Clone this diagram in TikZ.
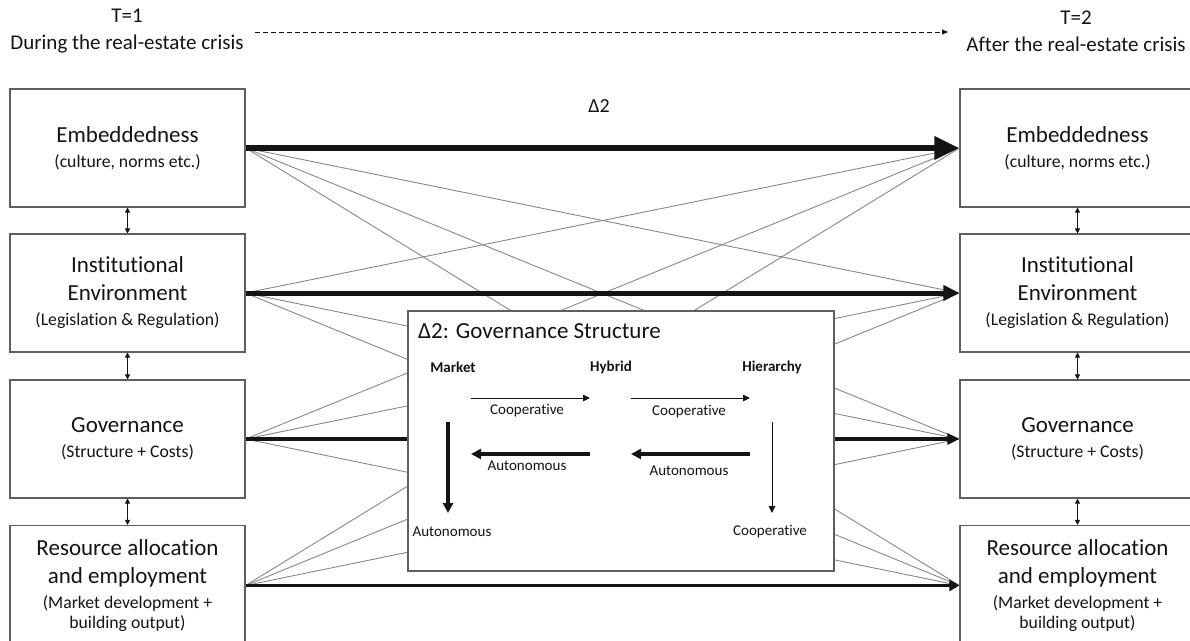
\documentclass[tikz,border=0pt]{standalone}
\usepackage{fontspec}
\setmainfont[Ligatures=NoCommon]{Carlito}
\usetikzlibrary{arrows.meta}
\definecolor{boxgray}{RGB}{95,95,95}
\definecolor{linegray}{RGB}{135,135,135}
\definecolor{ink}{RGB}{20,20,20}
\newcommand{\ttlfnt}{\fontsize{23}{28}\selectfont}
\newcommand{\subfnt}{\fontsize{17.7}{20}\selectfont}
\newcommand{\topfnt}{\fontsize{21}{27}\selectfont}
\newcommand{\smallfnt}{\fontsize{15}{18}\selectfont}
\begin{document}
\begin{tikzpicture}[x=1pt,y=-1pt,
  mbox/.style={draw=boxgray, line width=1.1pt, fill=white, text=ink,
    minimum width=235pt, minimum height=118pt, inner sep=0pt, align=center, font=\ttlfnt},
  thinlink/.style={draw=linegray, line width=0.9pt},
  biarrow/.style={draw=ink, line width=0.8pt,
    {Triangle[length=5pt,width=5pt]}-{Triangle[length=5pt,width=5pt]}},
  lbl/.style={text=ink, inner sep=0pt},
  thinarr/.style={draw=ink, line width=1pt, -{Triangle[length=7pt,width=6.5pt]}},
  thickarr/.style={draw=ink, line width=3.3pt, -{Triangle[length=10pt,width=10pt]}}
]
\path[use as bounding box] (0,0) rectangle (1190,640);
\clip (0,0) rectangle (1190,640);

% time labels
\node[lbl, align=center, font=\topfnt] (t1) at (127,31) {T=1\\During the real-estate crisis};
\node[lbl, align=center, font=\topfnt] (t2) at (1076,31) {T=2\\After the real-estate crisis};
\coordinate (ds) at (255,32);
\coordinate (de) at (948,32);
\draw[ink, line width=0.8pt, dash pattern=on 5pt off 3pt, -{Triangle[length=6pt,width=5pt]}] (ds) -- (de);

% left boxes
\node[mbox] (lemb) at (127.5,148) {Embeddedness\\[-3pt]{\subfnt (culture, norms etc.)}};
\node[mbox] (linst) at (127.5,293) {Institutional\\Environment\\[-3pt]{\subfnt (Legislation \& Regulation)}};
\node[mbox] (lgov) at (127.5,439) {Governance\\[-3pt]{\subfnt (Structure + Costs)}};
\node[mbox, minimum height=120pt] (lres) at (127.5,585.5) {Resource allocation\\and employment\\[-3pt]{\subfnt (Market development +}\\[-8pt]{\subfnt building output)}};

% right boxes
\node[mbox] (remb) at (1077.5,148) {Embeddedness\\[-3pt]{\subfnt (culture, norms etc.)}};
\node[mbox] (rinst) at (1077.5,293) {Institutional\\Environment\\[-3pt]{\subfnt (Legislation \& Regulation)}};
\node[mbox] (rgov) at (1077.5,439) {Governance\\[-3pt]{\subfnt (Structure + Costs)}};
\node[mbox, minimum height=120pt] (rres) at (1077.5,585.5) {Resource allocation\\and employment\\[-3pt]{\subfnt (Market development +}\\[-8pt]{\subfnt building output)}};

% vertical double arrows
\draw[biarrow] (lemb.south) -- (linst.north);
\draw[biarrow] (linst.south) -- (lgov.north);
\draw[biarrow] (lgov.south) -- (lres.north);
\draw[biarrow] (remb.south) -- (rinst.north);
\draw[biarrow] (rinst.south) -- (rgov.north);
\draw[biarrow] (rgov.south) -- (rres.north);

% thin cross links
\foreach \a in {lemb,linst,lgov,lres}{
  \foreach \b in {remb,rinst,rgov,rres}{
    \draw[thinlink] (\a.east) -- (\b.west);
  }
}

% thick same-level links
\draw[ink, line width=6.5pt, -{Triangle[length=25pt,width=22pt]}] (lemb.east) -- (remb.west);
\draw[ink, line width=5pt, -{Triangle[length=16pt,width=15pt]}] (linst.east) -- (rinst.west);
\draw[ink, line width=3.8pt, -{Triangle[length=12pt,width=11pt]}] (lgov.east) -- (rgov.west);
\draw[ink, line width=3pt, -{Triangle[length=10pt,width=11pt]}] (lres.east) -- (rres.west);

\node[lbl, font=\fontsize{20}{22}\selectfont] (d2) at (599,106) {Δ2};

% governance structure box
\node[draw=boxgray, line width=1.1pt, fill=white, minimum width=426pt, minimum height=260pt, inner sep=0pt] (gs) at (621,441) {};
\node[lbl, anchor=west, font=\ttlfnt] (gst) at (418,331) {Δ2: Governance Structure};

\node[lbl, font=\smallfnt\bfseries] (mk) at (453,367) {Market};
\node[lbl, font=\smallfnt\bfseries] (hy) at (611,367) {Hybrid};
\node[lbl, font=\smallfnt\bfseries] (hi) at (772,367) {Hierarchy};

\coordinate (a1s) at (471,398); \coordinate (a1e) at (590,398);
\coordinate (a2s) at (631,398); \coordinate (a2e) at (750,398);
\coordinate (b1s) at (590,454); \coordinate (b1e) at (471,454);
\coordinate (b2s) at (750,454); \coordinate (b2e) at (631,454);
\coordinate (c1s) at (448,422); \coordinate (c1e) at (448,513);
\coordinate (c2s) at (772,422); \coordinate (c2e) at (772,513);

\draw[thinarr] (a1s) -- (a1e);
\draw[thinarr] (a2s) -- (a2e);
\draw[thickarr] (b1s) -- (b1e);
\draw[thickarr] (b2s) -- (b2e);
\draw[thickarr] (c1s) -- (c1e);
\draw[thinarr] (c2s) -- (c2e);

\node[lbl, font=\smallfnt] (l1) at (527,411) {Cooperative};
\node[lbl, font=\smallfnt] (l2) at (689,412) {Cooperative};
\node[lbl, font=\smallfnt] (l3) at (527,466) {Autonomous};
\node[lbl, font=\smallfnt] (l4) at (689,471) {Autonomous};
\node[lbl, font=\smallfnt] (l5) at (452,532) {Autonomous};
\node[lbl, font=\smallfnt] (l6) at (770,532) {Cooperative};
\end{tikzpicture}
\end{document}
